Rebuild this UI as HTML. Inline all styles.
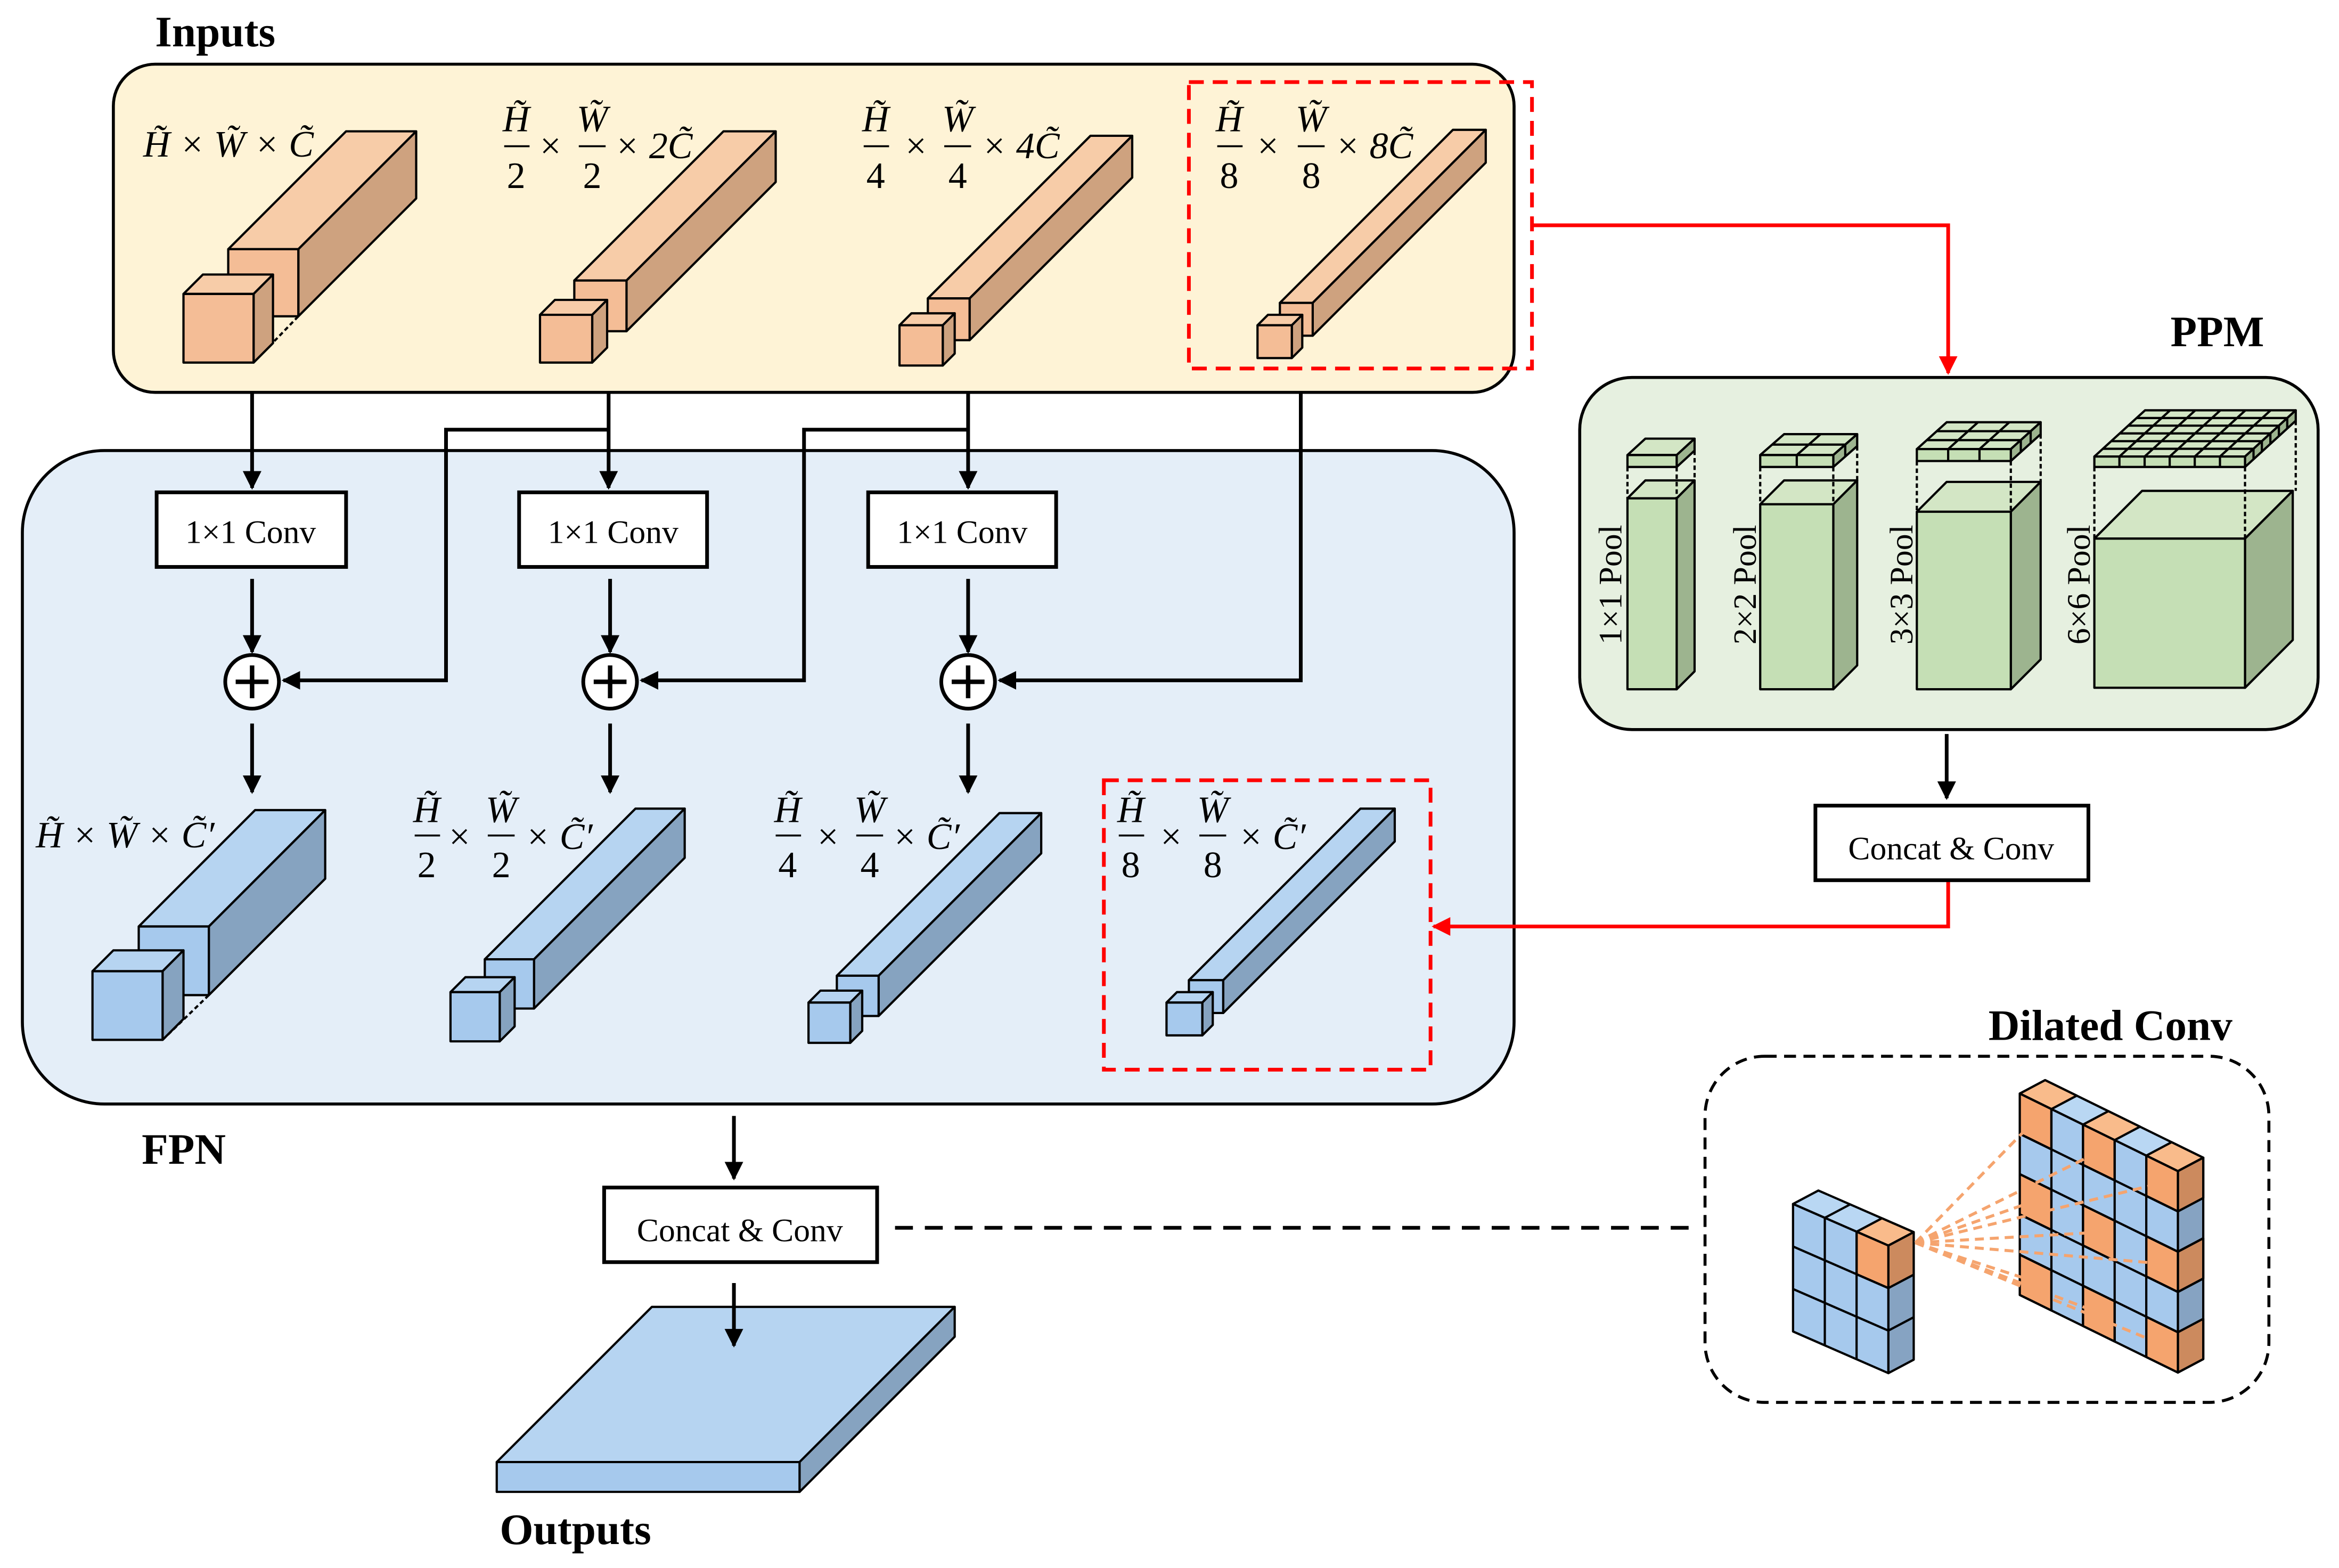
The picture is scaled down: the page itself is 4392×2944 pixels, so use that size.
<!DOCTYPE html>
<html><head><meta charset="utf-8"><style>
html,body{margin:0;padding:0;background:#fff}
svg{display:block}
.m{font-family:"Liberation Serif",serif;font-style:italic;font-size:25px}
.r{font-family:"Liberation Serif",serif;font-size:22px}
.b{font-family:"Liberation Serif",serif;font-weight:bold;font-size:29px}
</style></head><body>
<svg xmlns="http://www.w3.org/2000/svg" width="4392" height="2944" viewBox="0 0 1568 1051">
<defs>
<marker id="a" viewBox="0 0 10 10" refX="9" refY="5" markerWidth="5" markerHeight="5" orient="auto"><path d="M0,0L10,5L0,10z" fill="#000"/></marker>
<marker id="ar" viewBox="0 0 10 10" refX="9" refY="5" markerWidth="5" markerHeight="5" orient="auto"><path d="M0,0L10,5L0,10z" fill="#f00"/></marker>
</defs>
<rect width="1568" height="1051" fill="#fff"/>
<rect x="76" y="43" width="939" height="220" rx="28" fill="#fef3d6" stroke="#000" stroke-width="2"/>
<rect x="15" y="302" width="1000" height="438" rx="55" fill="#e4eef8" stroke="#000" stroke-width="2"/>
<rect x="1059" y="253" width="495" height="236" rx="35" fill="#e6f0e0" stroke="#000" stroke-width="2"/>
<rect x="1143" y="708" width="378" height="232" rx="40" fill="#fff" stroke="#000" stroke-width="2" stroke-dasharray="8,5"/>

<!-- orange bars -->
<g stroke="#000" stroke-width="1.5" stroke-linejoin="round">
<polygon points="153,167 200,167 279,88 232,88" fill="#f7cca8"/><polygon points="200,167 279,88 279,133 200,212" fill="#cea27f"/><rect x="153" y="167" width="47" height="45" fill="#f4bd96"/>
<line x1="170" y1="243" x2="200" y2="212" stroke-dasharray="3,2"/>
<polygon points="123,197 170,197 183,184 136,184" fill="#f7cca8"/><polygon points="170,197 183,184 183,230 170,243" fill="#cea27f"/><rect x="123" y="197" width="47" height="46" fill="#f4bd96"/>
<polygon points="385,188 420,188 520,88 485,88" fill="#f7cca8"/><polygon points="420,188 520,88 520,122 420,222" fill="#cea27f"/><rect x="385" y="188" width="35" height="34" fill="#f4bd96"/>
<polygon points="362,211 397,211 407,201 372,201" fill="#f7cca8"/><polygon points="397,211 407,201 407,233 397,243" fill="#cea27f"/><rect x="362" y="211" width="35" height="32" fill="#f4bd96"/>
<polygon points="622,200 650,200 759,91 731,91" fill="#f7cca8"/><polygon points="650,200 759,91 759,119 650,228" fill="#cea27f"/><rect x="622" y="200" width="28" height="28" fill="#f4bd96"/>
<polygon points="603,218 632,218 640,210 611,210" fill="#f7cca8"/><polygon points="632,218 640,210 640,237 632,245" fill="#cea27f"/><rect x="603" y="218" width="29" height="27" fill="#f4bd96"/>
<polygon points="858,203 880,203 996,87 974,87" fill="#f7cca8"/><polygon points="880,203 996,87 996,109 880,225" fill="#cea27f"/><rect x="858" y="203" width="22" height="22" fill="#f4bd96"/>
<polygon points="843,218 866,218 873,211 850,211" fill="#f7cca8"/><polygon points="866,218 873,211 873,233 866,240" fill="#cea27f"/><rect x="843" y="218" width="23" height="22" fill="#f4bd96"/>
</g>
<!-- blue bars -->
<g stroke="#000" stroke-width="1.5" stroke-linejoin="round">
<polygon points="93,621 140,621 218,543 171,543" fill="#b6d4f1"/><polygon points="140,621 218,543 218,589 140,667" fill="#86a3c0"/><rect x="93" y="621" width="47" height="46" fill="#a6c9ed"/>
<line x1="109" y1="697" x2="140" y2="667" stroke-dasharray="3,2"/>
<polygon points="62,651 109,651 123,637 76,637" fill="#b6d4f1"/><polygon points="109,651 123,637 123,683 109,697" fill="#86a3c0"/><rect x="62" y="651" width="47" height="46" fill="#a6c9ed"/>
<polygon points="325,643 358,643 459,542 426,542" fill="#b6d4f1"/><polygon points="358,643 459,542 459,575 358,676" fill="#86a3c0"/><rect x="325" y="643" width="33" height="33" fill="#a6c9ed"/>
<polygon points="302,665 335,665 345,655 312,655" fill="#b6d4f1"/><polygon points="335,665 345,655 345,688 335,698" fill="#86a3c0"/><rect x="302" y="665" width="33" height="33" fill="#a6c9ed"/>
<polygon points="561,654 589,654 698,545 670,545" fill="#b6d4f1"/><polygon points="589,654 698,545 698,572 589,681" fill="#86a3c0"/><rect x="561" y="654" width="28" height="27" fill="#a6c9ed"/>
<polygon points="542,672 570,672 578,664 550,664" fill="#b6d4f1"/><polygon points="570,672 578,664 578,691 570,699" fill="#86a3c0"/><rect x="542" y="672" width="28" height="27" fill="#a6c9ed"/>
<polygon points="797,657 820,657 935,542 912,542" fill="#b6d4f1"/><polygon points="820,657 935,542 935,564 820,679" fill="#86a3c0"/><rect x="797" y="657" width="23" height="22" fill="#a6c9ed"/>
<polygon points="782,672 806,672 813,665 789,665" fill="#b6d4f1"/><polygon points="806,672 813,665 813,687 806,694" fill="#86a3c0"/><rect x="782" y="672" width="24" height="22" fill="#a6c9ed"/>
<!-- output slab -->
<polygon points="333,980 437,876 640,876 536,980" fill="#b6d4f1"/><polygon points="536,980 640,876 640,896 536,1000" fill="#86a3c0"/><rect x="333" y="980" width="203" height="20" fill="#a6c9ed"/>
</g>
<!-- PPM -->
<g stroke="#000" stroke-width="1.5" stroke-linejoin="round">
<polygon points="1091,334 1124,334 1136,322 1103,322" fill="#d3e6c5"/><polygon points="1124,334 1136,322 1136,450 1124,462" fill="#9db48f"/><rect x="1091" y="334" width="33" height="128" fill="#c5dfb5"/>
<polygon points="1091,305 1124,305 1136,294 1103,294" fill="#d3e6c5"/><polygon points="1124,305 1136,294 1136,302 1124,313" fill="#9db48f"/><rect x="1091" y="305" width="33" height="8" fill="#c5dfb5"/>
<polygon points="1180,338 1229,338 1245,322 1196,322" fill="#d3e6c5"/><polygon points="1229,338 1245,322 1245,446 1229,462" fill="#9db48f"/><rect x="1180" y="338" width="49" height="124" fill="#c5dfb5"/>
<polygon points="1180,305 1229,305 1245,291 1196,291" fill="#d3e6c5"/><polygon points="1229,305 1245,291 1245,299 1229,313" fill="#9db48f"/><rect x="1180" y="305" width="49" height="8" fill="#c5dfb5"/>
<path d="M1204.5,305v8M1204.5,305L1220.5,291M1188,298H1237M1237,298v8" fill="none"/>
<polygon points="1285,343 1348,343 1368,323 1305,323" fill="#d3e6c5"/><polygon points="1348,343 1368,323 1368,442 1348,462" fill="#9db48f"/><rect x="1285" y="343" width="63" height="119" fill="#c5dfb5"/>
<polygon points="1285,301 1348,301 1368,283 1305,283" fill="#d3e6c5"/><polygon points="1348,301 1368,283 1368,291 1348,309" fill="#9db48f"/><rect x="1285" y="301" width="63" height="8" fill="#c5dfb5"/>
<path d="M1306,301v8M1327,301v8M1306,301L1326,283M1327,301L1347,283M1291.7,295H1354.7M1298.3,289H1361.3M1354.7,295v8M1361.3,289v8" fill="none"/>
<polygon points="1404,361 1505,361 1537,329 1436,329" fill="#d3e6c5"/><polygon points="1505,361 1537,329 1537,429 1505,461" fill="#9db48f"/><rect x="1404" y="361" width="101" height="100" fill="#c5dfb5"/>
<polygon points="1404,306 1505,306 1539,275 1438,275" fill="#d3e6c5"/><polygon points="1505,306 1539,275 1539,282 1505,313" fill="#9db48f"/><rect x="1404" y="306" width="101" height="7" fill="#c5dfb5"/>
<path d="M1420.8,306v7M1437.7,306v7M1454.5,306v7M1471.3,306v7M1488.2,306v7M1420.8,306l34,-31M1437.7,306l34,-31M1454.5,306l34,-31M1471.3,306l34,-31M1488.2,306l34,-31M1409.7,300.8H1510.7M1415.3,295.7H1516.3M1421,290.5H1522M1426.7,285.3H1527.7M1432.3,280.2H1533.3M1510.7,300.8v7M1516.3,295.7v7M1522,290.5v7M1527.7,285.3v7M1533.3,280.2v7" fill="none"/>
</g>
<g stroke="#000" stroke-width="1.5" stroke-dasharray="3,2">
<path d="M1091,313V334M1124,313V334M1136,302V322M1180,313V338M1229,313V338M1245,299V322M1285,309V343M1348,309V343M1368,291V323M1404,313V361M1505,313V361M1539,282V329"/>
</g>
<!-- dilated: left block -->
<g stroke="#000" stroke-width="1.5" stroke-linejoin="round">
<polygon points="1202,807 1265.9,834.9 1282.9,825.9 1219,798" fill="#b9d7f3"/>
<polygon points="1244.6,825.6 1265.9,834.9 1282.9,825.9 1261.6,816.6" fill="#f9bb8b"/>
<polygon points="1265.9,834.9 1282.9,825.9 1282.9,911.4 1265.9,920.4" fill="#86a3c2"/>
<polygon points="1265.9,834.9 1282.9,825.9 1282.9,854.4 1265.9,863.4" fill="#cc8a5e"/>
<polygon points="1202,807 1265.9,834.9 1265.9,920.4 1202,892.5" fill="#a6c9ed"/>
<polygon points="1244.6,825.6 1265.9,834.9 1265.9,863.4 1244.6,854.1" fill="#f5a46e"/>
<path d="M1223.3,816.3V901.8M1244.6,825.6V911.1M1202,835.5L1265.9,863.4M1202,864L1265.9,891.9M1223.3,816.3L1240.3,807.3M1265.9,891.9L1282.9,882.9" fill="none"/>
</g>
<!-- dilated: right block -->
<g stroke="#000" stroke-width="1.5" stroke-linejoin="round">
<polygon points="1354,733 1460,785 1477,776 1371,724" fill="#b9d7f3"/>
<polygon points="1354,733 1375.2,743.4 1392.2,734.4 1371,724" fill="#f9bb8b"/>
<polygon points="1396.4,753.8 1417.6,764.2 1434.6,755.2 1413.4,744.8" fill="#f9bb8b"/>
<polygon points="1438.8,774.6 1460,785 1477,776 1455.8,765.6" fill="#f9bb8b"/>
<polygon points="1460,785 1477,776 1477,911 1460,920" fill="#86a3c2"/>
<polygon points="1460,785 1477,776 1477,803 1460,812" fill="#cc8a5e"/>
<polygon points="1460,839 1477,830 1477,857 1460,866" fill="#cc8a5e"/>
<polygon points="1460,893 1477,884 1477,911 1460,920" fill="#cc8a5e"/>
<polygon points="1354,733 1460,785 1460,920 1354,868" fill="#a6c9ed"/>
<polygon points="1354,733 1375.2,743.4 1375.2,770.4 1354,760" fill="#f5a46e"/>
<polygon points="1354,787 1375.2,797.4 1375.2,824.4 1354,814" fill="#f5a46e"/>
<polygon points="1354,841 1375.2,851.4 1375.2,878.4 1354,868" fill="#f5a46e"/>
<polygon points="1396.4,753.8 1417.6,764.2 1417.6,791.2 1396.4,780.8" fill="#f5a46e"/>
<polygon points="1396.4,807.8 1417.6,818.2 1417.6,845.2 1396.4,834.8" fill="#f5a46e"/>
<polygon points="1396.4,861.8 1417.6,872.2 1417.6,899.2 1396.4,888.8" fill="#f5a46e"/>
<polygon points="1438.8,774.6 1460,785 1460,812 1438.8,801.6" fill="#f5a46e"/>
<polygon points="1438.8,828.6 1460,839 1460,866 1438.8,855.6" fill="#f5a46e"/>
<polygon points="1438.8,882.6 1460,893 1460,920 1438.8,909.6" fill="#f5a46e"/>
<path d="M1375.2,743.4V878.4M1396.4,753.8V888.8M1417.6,764.2V899.2M1438.8,774.6V909.6M1354,760L1460,812M1354,787L1460,839M1354,814L1460,866M1354,841L1460,893M1460,839L1477,830M1460,866L1477,857" fill="none"/>
</g>
<g stroke="#f5a46e" stroke-width="2" stroke-dasharray="6,4">
<path d="M1284,833L1364,751M1284,833L1364,805M1284,833L1364,859M1284,833L1407,772M1284,833L1407,826M1284,833L1407,880M1284,833L1449,793M1284,833L1449,847M1284,833L1449,901"/>
</g>
<!-- connectors -->
<g stroke="#000" stroke-width="2.5" fill="none">
<line x1="169" y1="263" x2="169" y2="327" marker-end="url(#a)"/>
<line x1="408" y1="263" x2="408" y2="327" marker-end="url(#a)"/>
<line x1="649" y1="263" x2="649" y2="327" marker-end="url(#a)"/>
<polyline points="408,288 299,288 299,456 190,456" marker-end="url(#a)"/>
<polyline points="649,288 539,288 539,456 430,456" marker-end="url(#a)"/>
<polyline points="872,263 872,456 670,456" marker-end="url(#a)"/>
<line x1="169" y1="388" x2="169" y2="437" marker-end="url(#a)"/>
<line x1="409" y1="388" x2="409" y2="437" marker-end="url(#a)"/>
<line x1="649" y1="388" x2="649" y2="437" marker-end="url(#a)"/>
<line x1="169" y1="485" x2="169" y2="531" marker-end="url(#a)"/>
<line x1="409" y1="485" x2="409" y2="531" marker-end="url(#a)"/>
<line x1="649" y1="485" x2="649" y2="531" marker-end="url(#a)"/>
<line x1="1305" y1="492" x2="1305" y2="535" marker-end="url(#a)"/>
<line x1="492" y1="748" x2="492" y2="790" marker-end="url(#a)"/>
<line x1="492" y1="860" x2="492" y2="902" marker-end="url(#a)"/>
<line x1="600" y1="823" x2="1140" y2="823" stroke-dasharray="12,8"/>
</g>
<g stroke="#f00" stroke-width="2.5" fill="none">
<rect x="797" y="55" width="230" height="192" stroke-dasharray="10,6"/>
<rect x="740" y="523" width="219" height="194" stroke-dasharray="10,6"/>
<polyline points="1027,151 1306,151 1306,250" marker-end="url(#ar)"/>
<polyline points="1306,591 1306,621 961,621" marker-end="url(#ar)"/>
</g>
<g stroke="#000" stroke-width="2.5" fill="#fff">
<circle cx="169" cy="457" r="18"/><circle cx="409" cy="457" r="18"/><circle cx="649" cy="457" r="18"/>
</g>
<g stroke="#000" stroke-width="3">
<path d="M158,457h22M169,446v22M398,457h22M409,446v22M638,457h22M649,446v22"/>
</g>
<g fill="#fff" stroke="#000" stroke-width="2.5">
<rect x="105" y="330" width="127" height="50"/><rect x="348" y="330" width="126" height="50"/><rect x="582" y="330" width="126" height="50"/>
<rect x="1217" y="540" width="183" height="50"/><rect x="405" y="796" width="183" height="50"/>
</g>
<g class="r" text-anchor="middle">
<text x="168" y="364">1×1 Conv</text><text x="411" y="364">1×1 Conv</text><text x="645" y="364">1×1 Conv</text>
<text x="1308" y="576">Concat &amp; Conv</text><text x="496" y="832">Concat &amp; Conv</text>
</g>
<g class="r" font-size="24">
<text transform="translate(1087,432) rotate(-90)">1×1 Pool</text>
<text transform="translate(1177,432) rotate(-90)">2×2 Pool</text>
<text transform="translate(1282,432) rotate(-90)">3×3 Pool</text>
<text transform="translate(1401,432) rotate(-90)">6×6 Pool</text>
</g>
<g class="b">
<text x="104" y="31">Inputs</text><text x="1455" y="232">PPM</text><text x="95" y="780">FPN</text>
<text x="1333" y="697">Dilated Conv</text><text x="335" y="1035">Outputs</text>
</g>
<g class="m">
<text x="96" y="105">H̃ × W̃ × C̃</text>
<text x="346" y="88" text-anchor="middle">H̃</text><text x="346" y="126" text-anchor="middle" font-style="normal">2</text>
<text x="362" y="106" font-style="normal">×</text>
<text x="397" y="88" text-anchor="middle">W̃</text><text x="397" y="126" text-anchor="middle" font-style="normal">2</text>
<text x="412" y="106">× 2C̃</text>
<text x="587" y="88" text-anchor="middle">H̃</text><text x="587" y="126" text-anchor="middle" font-style="normal">4</text>
<text x="607" y="106" font-style="normal">×</text>
<text x="642" y="88" text-anchor="middle">W̃</text><text x="642" y="126" text-anchor="middle" font-style="normal">4</text>
<text x="658" y="106">× 4C̃</text>
<text x="824" y="88" text-anchor="middle">H̃</text><text x="824" y="126" text-anchor="middle" font-style="normal">8</text>
<text x="843" y="106" font-style="normal">×</text>
<text x="879" y="88" text-anchor="middle">W̃</text><text x="879" y="126" text-anchor="middle" font-style="normal">8</text>
<text x="895" y="106">× 8C̃</text>
<text x="24" y="568">H̃ × W̃ × C̃′</text>
<text x="286" y="551" text-anchor="middle">H̃</text><text x="286" y="588" text-anchor="middle" font-style="normal">2</text>
<text x="301" y="569" font-style="normal">×</text>
<text x="336" y="551" text-anchor="middle">W̃</text><text x="336" y="588" text-anchor="middle" font-style="normal">2</text>
<text x="352" y="569">× C̃′</text>
<text x="528" y="551" text-anchor="middle">H̃</text><text x="528" y="588" text-anchor="middle" font-style="normal">4</text>
<text x="548" y="569" font-style="normal">×</text>
<text x="583" y="551" text-anchor="middle">W̃</text><text x="583" y="588" text-anchor="middle" font-style="normal">4</text>
<text x="598" y="569">× C̃′</text>
<text x="758" y="551" text-anchor="middle">H̃</text><text x="758" y="588" text-anchor="middle" font-style="normal">8</text>
<text x="778" y="569" font-style="normal">×</text>
<text x="813" y="551" text-anchor="middle">W̃</text><text x="813" y="588" text-anchor="middle" font-style="normal">8</text>
<text x="830" y="569">× C̃′</text>
</g>
<g stroke="#000" stroke-width="1.3">
<path d="M338,98h17M388,98h18M579,98h17M633,98h18M816,98h17M870,98h18M278,560h17M327,560h18M520,560h17M574,560h18M750,560h17M804,560h18"/>
</g>
</svg>
</body></html>
